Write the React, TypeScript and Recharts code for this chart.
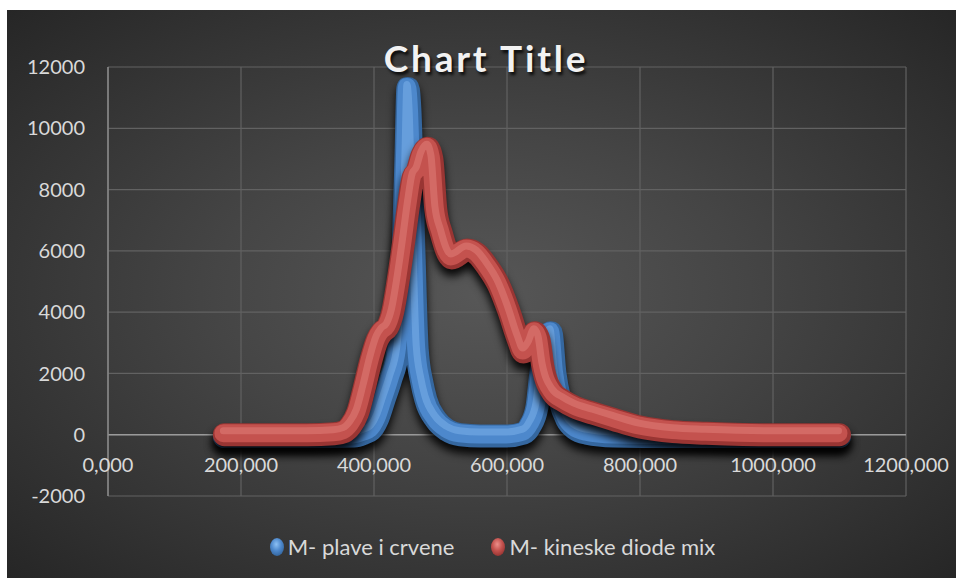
import React from "react";
import { LineChart, Line, XAxis, YAxis, CartesianGrid, ReferenceLine, Legend } from "recharts";

const xTicks = [0, 200, 400, 600, 800, 1000, 1200];
const yTicks = [-2000, 0, 2000, 4000, 6000, 8000, 10000, 12000];

const blueName = "M- plave i crvene";
const redName = "M- kineske diode mix";

// wavelength (nm) / intensity
const blueNm = [175, 250, 300, 370, 385, 395, 405, 415, 425, 436, 444, 448, 451, 454, 460, 465, 472, 478, 493, 510, 530, 560, 600, 625, 635, 645, 651, 658, 666, 672, 680, 690, 702, 720, 760, 850, 1000, 1100];
const blueVal = [-60, -60, -60, -40, 50, 150, 500, 1140, 1800, 2770, 6030, 8970, 11300, 10600, 6030, 2770, 1700, 1140, 490, 150, 0, -40, -40, 50, 300, 900, 2020, 3000, 3330, 2020, 1100, 500, 200, 50, -40, -60, -60, -60];

const redNm = [175, 250, 300, 340, 355, 365, 375, 385, 395, 405, 412, 420, 428, 436, 444, 452, 459, 465, 472, 481, 487, 493, 501, 517, 540, 555, 570, 587, 602, 617, 625, 633, 642, 648, 654, 669, 685, 702, 730, 760, 800, 850, 900, 1000, 1100];
const redVal = [0, 0, 0, 30, 100, 300, 700, 1500, 2400, 3100, 3350, 3500, 4000, 5000, 6200, 7500, 8400, 8600, 9100, 9350, 9000, 7340, 6590, 5770, 6030, 5900, 5500, 4900, 4080, 3100, 2700, 2900, 3330, 3100, 2220, 1370, 1100, 900, 700, 500, 250, 100, 50, 0, 0];

const toPoints = (xs: number[], ys: number[]) => xs.map((x, i) => ({ x, y: ys[i] }));
const bluePts = toPoints(blueNm, blueVal);
const redPts = toPoints(redNm, redVal);

const font = "Lato, 'Open Sans', sans-serif";
const textColor = "#d9d9d9";

const blueColors = { dark: "#35679f", mid: "#4d88cc", light: "#8cc0f4" };
const redColors = { dark: "#993533", mid: "#c4524e", light: "#ec8f8a" };

const tube = (key: string, pts: { x: number; y: number }[], name: string, c: typeof blueColors) => [
  <Line key={key + "b"} data={pts} dataKey="y" name={name} type="monotone" stroke={c.dark}
    strokeWidth={23} dot={false} activeDot={false} isAnimationActive={false} className="tube tube-base" />,
  <Line key={key + "m"} data={pts} dataKey="y" name={name + " m"} type="monotone" stroke={c.mid}
    strokeWidth={18} dot={false} activeDot={false} isAnimationActive={false} legendType="none" className="tube tube-mid" />,
  <Line key={key + "h"} data={pts} dataKey="y" name={name + " h"} type="monotone" stroke={c.light} strokeOpacity={0.4}
    strokeWidth={7} dot={false} activeDot={false} isAnimationActive={false} legendType="none" className="tube tube-hl" />,
];

const XTick = (props: any) => {
  const { x, y, payload } = props;
  return (
    <text x={x} y={y} dy={-40} textAnchor="middle" dominantBaseline="central" fill={textColor} fontSize={20} fontFamily={font}>
      {`${payload.value},000`}
    </text>
  );
};

const Sphere = ({ color }: { color: typeof blueColors }) => (
  <svg width={16} height={20} style={{ marginRight: 3 }}>
    <defs>
      <radialGradient id={"sp" + color.mid.slice(1)} cx="45%" cy="35%" r="65%">
        <stop offset="0%" stopColor={color.light} />
        <stop offset="55%" stopColor={color.mid} />
        <stop offset="100%" stopColor={color.dark} />
      </radialGradient>
    </defs>
    <ellipse cx={8} cy={10} rx={7} ry={9} fill={`url(#sp${color.mid.slice(1)})`} />
  </svg>
);

const legendOrder = [blueName, redName];

const LegendContent = (props: any) => {
  const names = (props.payload || []).map((p: any) => p.value);
  const items = legendOrder.filter((n) => names.includes(n));
  return (
    <div style={{ display: "flex", justifyContent: "center", gap: 36, fontFamily: font, fontSize: 22, color: textColor, paddingLeft: 28 }}>
      {items.map((n) => (
        <div key={n} style={{ display: "flex", alignItems: "center" }}>
          <Sphere color={n === blueName ? blueColors : redColors} />
          <span>{n}</span>
        </div>
      ))}
    </div>
  );
};

const css = `
.tube .recharts-line-curve { stroke-linecap: round; stroke-linejoin: round; fill: none; }
.tube-base .recharts-line-curve { filter: drop-shadow(0px 7px 4px rgba(0,0,0,0.9)); }
.tube-mid .recharts-line-curve { transform: translate(-1px, -1.5px); }
.tube-hl .recharts-line-curve { transform: translate(-1px, -4px); }
`;

export default function App() {
  return (
    <div style={{ position: "absolute", left: 0, top: 0, width: 956, height: 578, background: "#fff", overflow: "hidden" }}>
      <style>{css}</style>
      <div
        style={{
          position: "absolute",
          left: 7,
          top: 10,
          width: 949,
          height: 568,
          background: "radial-gradient(ellipse at 50% 50%, #575757 0%, #454545 40%, #262626 100%)",
        }}
      />
      <div
        style={{
          position: "absolute",
          left: 0,
          top: 36,
          width: 972,
          height: 44,
          lineHeight: "44px",
          textAlign: "center",
          fontFamily: font,
          fontWeight: 700,
          fontSize: 37,
          letterSpacing: 2.8,
          color: "#f2f2f2",
          textShadow: "2px 3px 3px rgba(0,0,0,0.8)",
          zIndex: 2,
        }}
      >
        Chart Title
      </div>
      <div style={{ position: "absolute", left: 0, top: 0 }}>
        <LineChart width={956} height={578} margin={{ top: 67, right: 50, bottom: 52, left: 48 }}>
          <CartesianGrid stroke="#626262" strokeWidth={1.2} />
          <XAxis
            dataKey="x"
            type="number"
            domain={[0, 1200]}
            ticks={xTicks}
            height={30}
            axisLine={false}
            tickLine={false}
            tick={<XTick />}
            allowDuplicatedCategory={false}
          />
          <YAxis
            type="number"
            domain={[-2000, 12000]}
            ticks={yTicks}
            width={60}
            axisLine={{ stroke: "#8a8a8a", strokeWidth: 1.5 }}
            tickLine={false}
            tickSize={0}
            tickMargin={23}
            tick={{ fill: textColor, fontSize: 20, fontFamily: font }}
          />
          <ReferenceLine y={0} stroke="#9a9a9a" strokeWidth={1.5} />
          {tube("blue", bluePts, blueName, blueColors)}
          {tube("red", redPts, redName, redColors)}
          <Legend verticalAlign="middle" layout="horizontal" align="center" wrapperStyle={{ top: 533, left: 0, width: 956 }} content={<LegendContent />} />
        </LineChart>
      </div>
    </div>
  );
}
